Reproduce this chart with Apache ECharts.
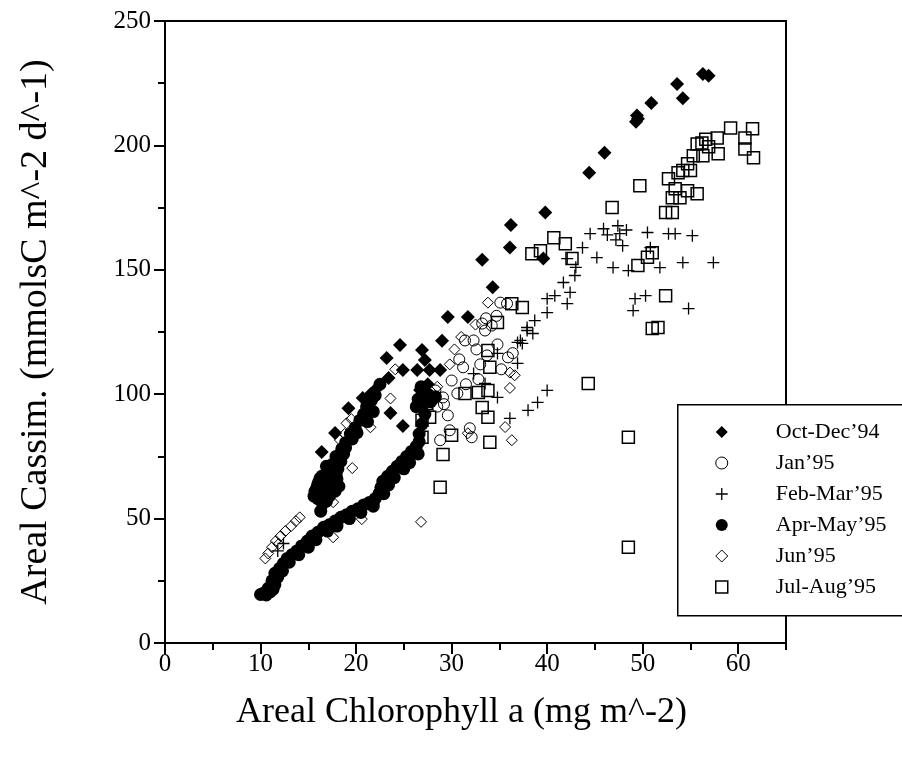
<!DOCTYPE html>
<html>
<head>
<meta charset="utf-8">
<script src="https://cdn.jsdelivr.net/npm/echarts@6/dist/echarts.min.js"></script>
<style>html,body{margin:0;padding:0;background:#fff}#c{width:902px;height:761px}</style>
</head>
<body>
<div id="c"></div>
<script>
const xTicks = [0, 10, 20, 30, 40, 50, 60];
const yTicks = [0, 50, 100, 150, 200, 250];
const seriesNames = ['Oct-Dec\u201994', 'Jan\u201995', 'Feb-Mar\u201995', 'Apr-May\u201995', 'Jun\u201995', 'Jul-Aug\u201995'];
const xTitle = 'Areal Chlorophyll a (mg m^-2)';
const yTitle = 'Areal Cassim. (mmolsC m^-2 d^-1)';

const octDec94 = [
  [56.3,228.7],[56.9,228],[53.6,224.7],[54.2,219],[50.9,217],[49.4,212],[49.5,210.7],[49.3,209.5],
  [46.0,197],[44.4,189],[39.8,173],[36.2,168],[36.1,159],[39.6,154.5],[33.2,154],[34.3,143],
  [29.6,131],[31.7,131],[29.0,121.5],[24.6,119.8],[26.9,117.8],[27.2,113.7],[23.2,114.5],[24.9,109.7],
  [27.7,109.7],[28.8,109.7],[26.4,109.7],[23.4,106.5],[22.2,102.5],[20.7,98.5],[19.2,94.4],[23.6,92.4],
  [24.9,87.2],[17.8,84.4],[16.4,76.8],[21.5,100],[26.7,101.7],[27.5,104],[28.2,98]
];
const jan95 = [
  [31.4,121.6],[32.3,121.6],[33.5,125.6],[33.2,128.4],[34.2,127.6],[35.8,136.4],[31.2,110.8],[33.7,115.6],
  [30.0,105.5],[30.6,100.3],[29.1,98.7],[28.3,101.5],[29.8,85.5],[31.9,86.3],[32.1,82.7],[28.8,81.5],
  [35.9,114.8],[29.6,91.5],[35.1,136.8],[32.6,118],[34.8,120],[30.8,114],[31.5,104],[32.8,106],
  [29.2,96],[28.5,95],[33.6,130.5],[34.7,131.5],[36.4,116.5],[35.2,110],[33.0,112]
];
const febMar95 = [
  [44.5,164.5],[45.9,166.5],[47.4,167.7],[47.6,164.5],[50.5,165],[52.7,164.5],[53.4,164.5],[55.2,163.7],
  [47.9,159.7],[45.2,154.9],[46.9,150.9],[48.5,149.7],[51.8,150.9],[54.2,152.9],[57.4,152.9],[50.8,158.9],
  [43.7,158.9],[42.9,147.7],[42.1,154.5],[42.4,140.9],[42.1,136.4],[49.2,138.4],[50.3,139.6],[49.0,133.6],
  [54.8,134.4],[41.7,144.9],[40.8,139.6],[40.0,138.4],[40.0,132.8],[38.7,129.6],[37.9,125.6],[38.5,124.4],
  [36.9,120.8],[37.4,120.4],[36.9,112.4],[34.8,116.4],[32.3,108.3],[40.0,101.5],[39.0,96.7],[38.0,93.5],
  [36.1,90.3],[37.9,126.8],[37.2,121.6],[33.5,104.3],[34.8,98.7],[46.3,164],[48.3,166],[47.2,162],
  [43.0,151],[11.8,37],[12.4,40]
];
const aprMay95 = [
  [10.0,19.5],[10.3,20],[10.6,19.3],[11.0,20.5],[10.8,22],[11.3,21.5],[11.5,23.5],[11.2,25],[11.8,26.5],
  [11.5,28],[12.0,30],[12.4,32],[12.8,34],[13.3,35.5],[13.8,37],[14.3,39],[14.9,41],[15.4,43],[16.0,44.5],
  [16.6,46.5],[17.2,47.5],[17.8,49],[18.4,50.5],[19.0,51.5],[19.6,53],[20.2,54],[20.8,55.5],[21.4,56.5],
  [22.0,58],[22.4,60],[22.6,62.5],[22.8,65],[23.3,67],[23.8,69],[24.3,71],[24.8,73],[25.3,75],[25.8,77],
  [26.3,79],[26.6,81],[12.3,29],[13.0,32.5],[14.0,35.5],[15.0,38.5],[15.8,41.5],[17.0,45],[18.0,47],
  [19.3,50],[20.5,52.5],[21.8,55],[22.9,60],[23.4,63.5],[24.0,66.5],[25.0,70],[25.6,72.5],[26.5,76],
  [16.3,53],[16.5,56],[16.0,58],[15.7,61],[16.4,60],[17.2,59],[17.8,61],[16.0,64],[16.8,63],[17.6,64.5],
  [18.2,63],[16.4,67],[17.1,68],[17.9,67.5],[16.9,71],[17.6,72],[18.1,70],[17.9,75],[18.5,78],[18.9,80.5],
  [19.4,84],[19.9,86.5],[20.4,89.5],[20.8,92],[21.1,95],[21.6,97.5],[22.0,99.5],[22.5,104],[21.2,89],
  [21.8,93],[26.5,98],[27.0,96],[27.5,100],[26.8,103],[27.8,97],[28.3,99],[26.3,95],[27.2,92],[26.9,88],
  [26.6,84],[26.9,99.5],[15.6,59],[15.9,62.5],[16.2,66],[17.0,66],[18.0,66],[17.4,62],[16.9,57],[17.3,70],
  [18.4,73],[18.7,76],[19.6,82],[20.1,84.5],[18.9,78.5]
];
const jun95 = [
  [10.8,36],[11.2,38.5],[11.6,41],[12.1,43],[12.6,45],[13.2,47],[13.7,49],[14.1,50.5],[10.5,34],[11.9,39.8],
  [20.6,49.8],[17.6,42.5],[26.8,48.7],[19.6,70.3],[17.6,56.6],[23.6,98.3],[21.5,86.7],[24.1,110],[19.0,88.3],
  [18.3,81.6],[19.5,90],[20.0,87.5],[18.8,84],[33.8,136.8],[31.7,84.3],[36.3,81.5],[36.1,108.7],[36.6,107.6],
  [36.1,102.5],[35.6,86.8],[31.0,123],[30.3,118],[32.5,128],[28.5,103],[29.8,112]
];
const julAug95 = [
  [59.2,207],[61.5,206.7],[57.8,203],[60.7,203],[56.2,201],[55.7,200.6],[57.9,196.6],[61.6,195],[60.7,198.6],
  [55.3,195.8],[56.3,195.8],[54.7,192.6],[54.2,189.9],[53.7,189],[55.0,189.9],[52.7,186.6],[49.7,183.8],
  [53.4,182.6],[54.7,181.8],[55.7,180.6],[53.1,179],[53.9,179],[52.4,173],[53.1,173],[46.8,175],[51.0,156.9],
  [50.5,155],[49.5,151.7],[41.9,160.5],[42.6,154.5],[52.4,139.6],[51.0,126.4],[51.6,126.8],[44.3,104.3],
  [48.5,82.7],[48.5,38.5],[40.7,162.9],[38.4,156.5],[39.3,157.7],[37.4,134.8],[36.3,136.4],[34.8,128.8],
  [33.8,117.6],[34.0,110.8],[32.8,100.7],[33.8,101.5],[31.4,100.3],[33.2,94.7],[33.8,90.7],[26.9,89.5],
  [27.7,90.7],[26.9,82.7],[30.0,83.5],[34.0,80.7],[27.4,96.3],[28.8,62.6],[29.1,75.8],[56.6,202.5],[56.9,199.5]
];

const FONT = 'Liberation Serif, Times New Roman, serif';
const plusPath = 'path://M0,5L10,5M5,0L5,10';
const openStyle = (w) => ({ color: 'rgba(0,0,0,0)', borderColor: '#000', borderWidth: w, opacity: 1 });
const filledStyle = { color: '#000', borderWidth: 0, opacity: 1 };

const styles = [
  { symbol: 'diamond', size: 14, item: filledStyle, icon: 'diamond' },
  { symbol: 'circle', size: 11, item: openStyle(1), icon: 'circle' },
  { symbol: plusPath, size: 12, item: openStyle(1.3), icon: plusPath },
  { symbol: 'circle', size: 13, item: filledStyle, icon: 'circle' },
  { symbol: 'diamond', size: 11, item: openStyle(1), icon: 'diamond' },
  { symbol: 'rect', size: 12, item: openStyle(1.5), icon: 'rect' }
];
const dataSets = [octDec94, jan95, febMar95, aprMay95, jun95, julAug95];

const chart = echarts.init(document.getElementById('c'), null, { renderer: 'canvas' });
chart.setOption({
  animation: false,
  backgroundColor: '#fff',
  grid: { left: 165, right: 116, top: 21, bottom: 118, show: true, borderColor: '#000', borderWidth: 2, backgroundColor: 'rgba(0,0,0,0)' },
  graphic: [{
    type: 'rect', left: 677, top: 404, z: 3,
    shape: { width: 240, height: 211 },
    style: { fill: '#fff', stroke: '#000', lineWidth: 1.5 }
  }],
  legend: {
    orient: 'vertical', left: 715, top: 421, padding: 0, z: 5,
    itemWidth: 12, itemHeight: 12, itemGap: 9,
    selectedMode: false,
    textStyle: { fontFamily: FONT, fontSize: 22, color: '#000', lineHeight: 22, padding: [0, 0, 0, 43] },
    data: seriesNames.map((n, i) => ({ name: n, icon: styles[i].icon, itemStyle: Object.assign({}, styles[i].item) }))
  },
  xAxis: [{
    type: 'value', min: 0, max: 65,
    name: xTitle, nameLocation: 'middle', nameGap: 52,
    nameTextStyle: { fontFamily: FONT, fontSize: 36, color: '#000', padding: [0, 28, 0, 0] },
    axisLine: { show: true, onZero: false, lineStyle: { color: '#000', width: 2 } },
    axisTick: { show: true, customValues: xTicks, length: 11, lineStyle: { color: '#000', width: 2 } },
    axisLabel: { customValues: xTicks, margin: 9, fontFamily: FONT, fontSize: 25, color: '#000' },
    splitLine: { show: false }
  }, {
    type: 'value', min: 0, max: 65, interval: 5, position: 'bottom', offset: 0,
    axisLine: { show: false },
    axisTick: { show: true, length: 7, lineStyle: { color: '#000', width: 2 } },
    axisLabel: { show: false },
    splitLine: { show: false }
  }],
  yAxis: [{
    type: 'value', min: 0, max: 250,
    name: yTitle, nameLocation: 'middle', nameGap: 110, nameRotate: 90,
    nameTextStyle: { fontFamily: FONT, fontSize: 38, color: '#000' },
    axisLine: { show: true, onZero: false, lineStyle: { color: '#000', width: 2 } },
    axisTick: { show: true, customValues: yTicks, length: 11, lineStyle: { color: '#000', width: 2 } },
    axisLabel: { customValues: yTicks, margin: 14, fontFamily: FONT, fontSize: 25, color: '#000' },
    splitLine: { show: false }
  }, {
    type: 'value', min: 0, max: 250, interval: 25, position: 'left', offset: 0,
    axisLine: { show: false },
    axisTick: { show: true, length: 7, lineStyle: { color: '#000', width: 2 } },
    axisLabel: { show: false },
    splitLine: { show: false }
  }],
  series: dataSets.map((d, i) => ({
    type: 'scatter', name: seriesNames[i], xAxisIndex: 0, yAxisIndex: 0,
    data: d, symbol: styles[i].symbol, symbolSize: styles[i].size,
    itemStyle: Object.assign({}, styles[i].item),
    emphasis: { disabled: true }, silent: true
  }))
});
</script>
</body>
</html>
